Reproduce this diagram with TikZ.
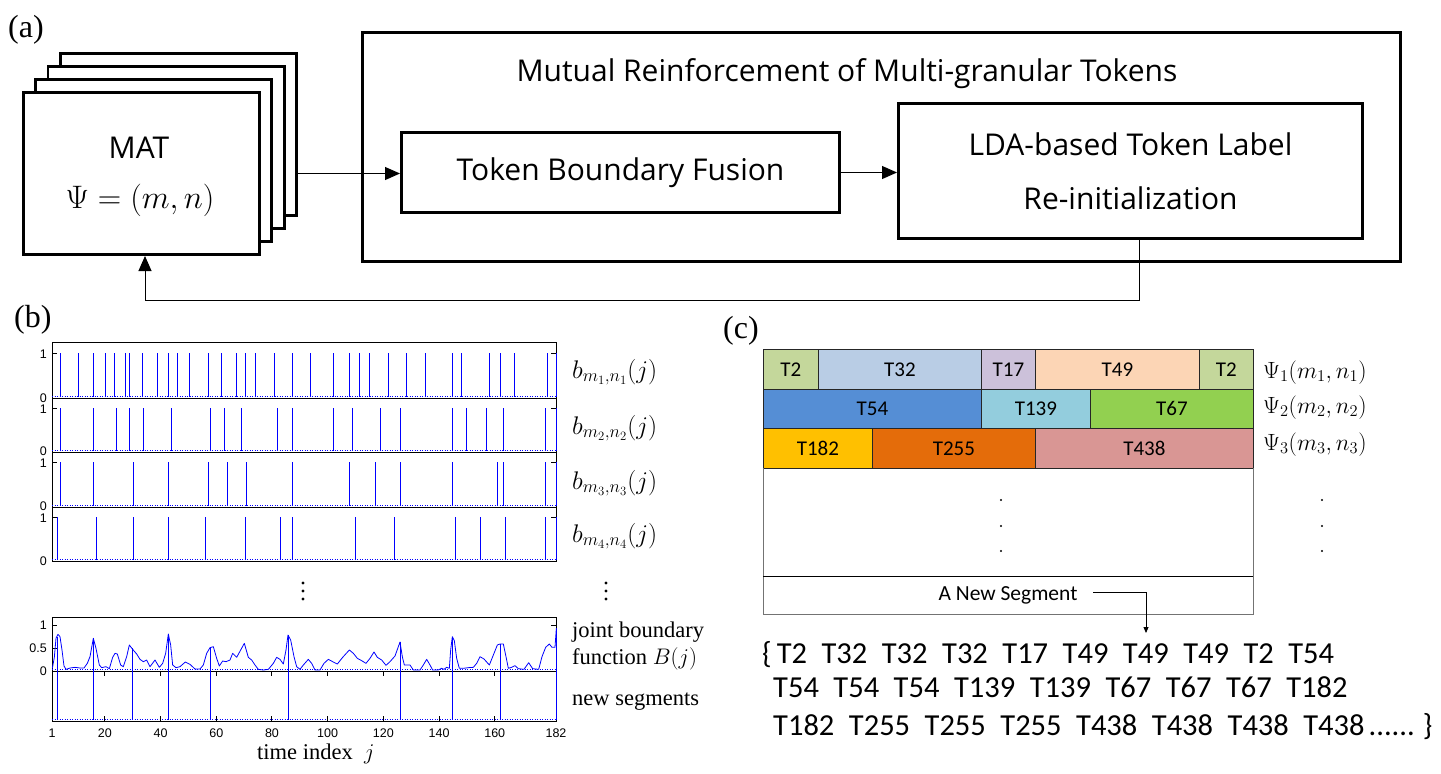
\RequirePackage{fix-cm}
\documentclass[tikz,border=0pt]{standalone}
\usepackage{fontspec}
\setmainfont{Liberation Serif}
\newfontfamily\uisans{Open Sans}
\newfontfamily\calib{Carlito}
\newfontfamily\arialf{Liberation Sans}
\usetikzlibrary{arrows.meta}
\definecolor{colA}{HTML}{C4D79B}
\definecolor{colB}{HTML}{B9CDE5}
\definecolor{colC}{HTML}{CCC1DA}
\definecolor{colD}{HTML}{FCD5B5}
\definecolor{colE}{HTML}{558ED5}
\definecolor{colF}{HTML}{93CDDD}
\definecolor{colG}{HTML}{92D050}
\definecolor{colH}{HTML}{FFC000}
\definecolor{colI}{HTML}{E46C0A}
\definecolor{colJ}{HTML}{D99694}
\definecolor{plotblue}{RGB}{0,0,255}
\newcommand\tks{\hspace{14.5pt}}
\begin{document}
\begin{tikzpicture}[x=1pt,y=-1pt,
  blk/.style={draw, line width=2.8pt, fill=white, inner sep=0pt},
  conn/.style={line width=1pt, -{Triangle[length=15pt,width=13pt]}},
  sconn/.style={line width=0.8pt, -{Triangle[length=6pt,width=5pt]}},
  uitext/.style={font=\uisans\fontsize{30}{36}\selectfont, inner sep=0pt},
  tcell/.style={draw=black!85, line width=0.8pt, inner sep=0pt, anchor=north west, font=\calib\fontsize{21}{24}\selectfont},
  spk/.style={plotblue, line width=1pt},
  bdot/.style={plotblue, line width=1pt, dash pattern=on 1pt off 1.5pt},
  pframe/.style={black, line width=1pt},
  ticklab/.style={font=\arialf\fontsize{12.5}{15}\selectfont, inner sep=0pt},
  labx/.style={inner sep=0pt, anchor=base west},
  bcurve/.style={plotblue, line width=0.8pt, line join=round}
]
\fill[white] (0,0) rectangle (1441,774);
\useasboundingbox (0,0) rectangle (1441,774);

% ---------------- (a) ----------------
\node[labx, font=\fontsize{32}{36}\selectfont] (la) at (8,37) {(a)};
\node[blk, minimum width=236.2pt, minimum height=162.2pt] (mat4) at (178.5,134.5) {};
\node[blk, minimum width=236.2pt, minimum height=162.2pt] (mat3) at (166,147.5) {};
\node[blk, minimum width=236.2pt, minimum height=162.2pt] (mat2) at (153.5,160.5) {};
\node[blk, minimum width=236.2pt, minimum height=162.2pt] (mat1) at (141.5,173.5) {};
\node[uitext] (mattxt) at (139,148) {MAT};
\node[inner sep=0pt, font=\fontsize{32.5}{38}\selectfont] (matpsi) at (140,200) {$\Psi=(m,n)$};

\node[blk, minimum width=1038.2pt, minimum height=229.2pt] (mr) at (881.5,147) {};
\node[uitext, anchor=base] (mrtitle) at (847,81) {Mutual Reinforcement of Multi-granular Tokens};
\node[blk, minimum width=438.2pt, minimum height=80.2pt, font=\uisans\fontsize{30}{36}\selectfont] (tbf) at (620.5,172.5) {Token Boundary Fusion};
\node[blk, minimum width=464.2pt, minimum height=135.2pt, align=center, font=\uisans\fontsize{30}{54}\selectfont] (lda) at (1130.5,171) {LDA-based Token Label\\Re-initialization};

\draw[conn] (mat1.east -| mat4.east) -- (tbf.west |- mat1.east);
\draw[conn] (tbf.east) -- (tbf.east -| lda.west);
\coordinate (fbr) at (1139,300);
\coordinate (fbl) at (145,300);
\draw[conn] (lda.south -| fbr) -- (fbr) -- (fbl) -- (mat1.south -| fbl);

% ---------------- (b) ----------------
\node[labx, font=\fontsize{32}{36}\selectfont] (lb) at (14,327) {(b)};

% frames of the four binary plots
\draw[pframe] (52,342) rectangle (556,398);
\draw[pframe] (52,398) rectangle (556,452);
\draw[pframe] (52,452) rectangle (556,507);
\draw[pframe] (52,507) rectangle (556,561);
\foreach \yy in {353,408,462,517} {
  \draw[pframe] (52,\yy) -- (57,\yy);
  \draw[pframe] (556,\yy) -- (551,\yy);
}
\foreach \yy in {396.5,450.5,505.5,559.5} {\draw[bdot] (52,\yy) -- (556,\yy);}

\foreach \xx in {60,78,93,105,114,125,129,142,157,168,177,189,208,221,236,245,255,274,292,310,333,349,359,369,388,406,425,452,461,489,500,514,547,556}
  {\draw[spk] (\xx,397) -- (\xx,353);}
\foreach \xx in {60,93,116,129,143,171,210,224,241,277,292,333,352,380,400,452,466,486,503,545,556}
  {\draw[spk] (\xx,451) -- (\xx,408);}
\foreach \xx in {60,93,133,168,208,227,246,292,349,375,400,452,497,503,545,556}
  {\draw[spk] (\xx,506) -- (\xx,462);}
\foreach \xx in {57,96,133,168,205,245,280,292,355,394,455,480,505,545,556}
  {\draw[spk] (\xx,560) -- (\xx,517);}

\foreach \yy [count=\i] in {354,409,463,518} {\node[ticklab, anchor=east] (one\i) at (47,\yy) {1};}
\foreach \yy [count=\i] in {398,451,506,561} {\node[ticklab, anchor=east] (zero\i) at (47,\yy) {0};}

\node[labx, font=\fontsize{25.5}{30}\selectfont] (bl1) at (572,378) {$b_{m_1,n_1}(j)$};
\node[labx, font=\fontsize{25.5}{30}\selectfont] (bl2) at (572,434) {$b_{m_2,n_2}(j)$};
\node[labx, font=\fontsize{25.5}{30}\selectfont] (bl3) at (572,489) {$b_{m_3,n_3}(j)$};
\node[labx, font=\fontsize{25.5}{30}\selectfont] (bl4) at (572,542) {$b_{m_4,n_4}(j)$};

\foreach \yy in {583,591,599} {\fill (303,\yy) circle (1.6pt); \fill (606,\yy) circle (1.6pt);}

% joint boundary plot
\draw[pframe] (52,617) rectangle (556,721);
\draw[pframe] (52,671) -- (556,671);
\draw[bdot] (52,669.5) -- (556,669.5);
\draw[bdot] (52,719.5) -- (556,719.5);
\draw[pframe] (52,625) -- (57,625);
\draw[pframe] (52,648) -- (57,648);
\draw[pframe] (556,625) -- (551,625);
\foreach \j in {20,40,...,160} {
  \draw[pframe] ({52+(\j-1)*2.78453},671) -- ++(0,5);
  \draw[pframe] ({52+(\j-1)*2.78453},721) -- ++(0,-5);
}
\begin{scope}[yshift=-570pt, x=0.33333pt, y=-0.33333pt]
\draw[bcurve] (157,295) -- (163,262) -- (168,205) -- (174,193) -- (180,200) -- (186,240) -- (192,288) -- (198,298) -- (210,294) -- (225,292) -- (240,294) -- (252,294) -- (262,280) -- (270,260) -- (280,205) -- (288,235) -- (298,285) -- (305,293) -- (318,290) -- (328,296) -- (338,262) -- (345,250) -- (352,252) -- (362,285) -- (370,290) -- (380,260) -- (388,225) -- (398,238) -- (410,252) -- (420,268) -- (430,275) -- (440,270) -- (450,290) -- (465,270) -- (478,292) -- (488,280) -- (497,250) -- (505,192) -- (512,225) -- (518,285) -- (528,293) -- (540,290) -- (556,276) -- (570,283) -- (585,297) -- (600,297) -- (610,285) -- (620,250) -- (630,233) -- (640,230) -- (650,265) -- (658,288) -- (668,273) -- (678,275) -- (690,270) -- (698,250) -- (710,262) -- (722,240) -- (733,220) -- (745,262) -- (755,270) -- (765,285) -- (775,298) -- (790,300) -- (805,298) -- (820,280) -- (830,262) -- (840,268) -- (850,282) -- (858,240) -- (864,195) -- (872,210) -- (882,260) -- (890,290) -- (900,298);
\end{scope}
\begin{scope}[xshift=300pt, yshift=-570pt, x=0.33333pt, y=-0.33333pt]
\draw[bcurve] (0,298) -- (10,285) -- (25,268) -- (35,280) -- (45,300) -- (60,300) -- (72,280) -- (85,268) -- (98,275) -- (112,282) -- (128,262) -- (148,240) -- (160,250) -- (172,265) -- (185,272) -- (198,280) -- (210,265) -- (222,246) -- (232,262) -- (245,270) -- (258,286) -- (270,275) -- (285,258) -- (300,216) -- (307,260) -- (313,285) -- (330,285) -- (340,300) -- (360,300) -- (370,285) -- (380,268) -- (390,285) -- (398,300) -- (415,300) -- (425,295) -- (432,298) -- (440,292) -- (448,295) -- (452,240) -- (457,200) -- (463,212) -- (470,265) -- (478,295) -- (490,295) -- (505,293) -- (520,292) -- (530,280) -- (540,260) -- (552,267) -- (568,285) -- (580,255) -- (592,225) -- (600,222) -- (610,222) -- (618,260) -- (625,295) -- (635,292) -- (645,287) -- (655,296) -- (672,298) -- (686,278) -- (698,296) -- (716,298) -- (726,260) -- (737,232) -- (748,222) -- (756,232) -- (765,232) -- (769,175);
\end{scope}
\foreach \xx/\yt in {57.7/636.7, 93.3/638.3, 132.7/648.3, 168.3/634, 210.3/647.3, 288/635, 400.3/641.7, 452.3/636.7, 500.3/644, 556/628.3}
  {\draw[spk] (\xx,\yt) -- (\xx,720);}

\node[ticklab, anchor=east] (one5) at (47,625) {1};
\node[ticklab, anchor=east] (half5) at (47,648) {0.5};
\node[ticklab, anchor=east] (zero5) at (47,671) {0};
\node[ticklab] (xl1) at (52,733) {1};
\foreach \j in {20,40,...,160} {\node[ticklab] (xl\j) at ({52+(\j-1)*2.78453},733) {\j};}
\node[ticklab] (xl182) at (556,733) {182};

\node[labx, font=\fontsize{22.5}{26}\selectfont] (tix) at (257,759) {time index\ \ $j$};
\node[labx, font=\fontsize{22.5}{26}\selectfont] (jb1) at (572,637) {joint boundary};
\node[labx, font=\fontsize{22.5}{26}\selectfont] (jb2) at (572,664) {function $B(j)$};
\node[labx, font=\fontsize{22.5}{26}\selectfont] (nseg) at (572,705) {new segments};

% ---------------- (c) ----------------
\node[labx, font=\fontsize{32}{36}\selectfont] (lc) at (723,338) {(c)};

\node[tcell, fill=colA, minimum width=55pt,  minimum height=40pt] (r1a) at (763,349)  {T2};
\node[tcell, fill=colB, minimum width=163pt, minimum height=40pt] (r1b) at (818,349)  {T32};
\node[tcell, fill=colC, minimum width=54pt,  minimum height=40pt] (r1c) at (981,349)  {T17};
\node[tcell, fill=colD, minimum width=164pt, minimum height=40pt] (r1d) at (1035,349) {T49};
\node[tcell, fill=colA, minimum width=54pt,  minimum height=40pt] (r1e) at (1199,349) {T2};

\node[tcell, fill=colE, minimum width=218pt, minimum height=39pt] (r2a) at (763,389)  {T54};
\node[tcell, fill=colF, minimum width=109pt, minimum height=39pt] (r2b) at (981,389)  {T139};
\node[tcell, fill=colG, minimum width=163pt, minimum height=39pt] (r2c) at (1090,389) {T67};

\node[tcell, fill=colH, minimum width=109pt, minimum height=40pt] (r3a) at (763,428)  {T182};
\node[tcell, fill=colI, minimum width=163pt, minimum height=40pt] (r3b) at (872,428)  {T255};
\node[tcell, fill=colJ, minimum width=218pt, minimum height=40pt] (r3c) at (1035,428) {T438};

\draw[black!55, line width=0.8pt] (763,468) -- (763,614) -- (1253,614) -- (1253,468);
\draw[black, line width=0.8pt] (763,576) -- (1253,576);
\foreach \yy in {500,526,551} {\fill (1001,\yy) circle (1.1pt); \fill (1322,\yy) circle (1.1pt);}

\node[labx, font=\fontsize{23.5}{28}\selectfont] (psi1) at (1263,378) {$\Psi_1(m_1,n_1)$};
\node[labx, font=\fontsize{23.5}{28}\selectfont] (psi2) at (1263,413) {$\Psi_2(m_2,n_2)$};
\node[labx, font=\fontsize{23.5}{28}\selectfont] (psi3) at (1263,450) {$\Psi_3(m_3,n_3)$};

\node[inner sep=0pt, font=\calib\fontsize{21.5}{24}\selectfont] (newseg) at (1008,595) {A New Segment};
\coordinate (segc) at (1146,592);
\coordinate (segtip) at (1146,633);
\draw[sconn] (1093,592) -- (segc) -- (segtip);

\node[labx, font=\calib\fontsize{30.5}{36}\selectfont] (seq1) at (762,663) {\{\hspace{5pt}T2\tks T32\tks T32\tks T32\tks T17\tks T49\tks T49\tks T49\tks T2\tks T54};
\node[labx, font=\calib\fontsize{30.5}{36}\selectfont] (seq2) at (773,697) {T54\tks T54\tks T54\tks T139\tks T139\tks T67\tks T67\tks T67\tks T182};
\node[labx, font=\calib\fontsize{30.5}{36}\selectfont] (seq3) at (773,735) {T182\tks T255\tks T255\tks T255\tks T438\tks T438\tks T438\tks T438\hspace{4pt}......\hspace{8pt}\}};
\end{tikzpicture}
\end{document}
